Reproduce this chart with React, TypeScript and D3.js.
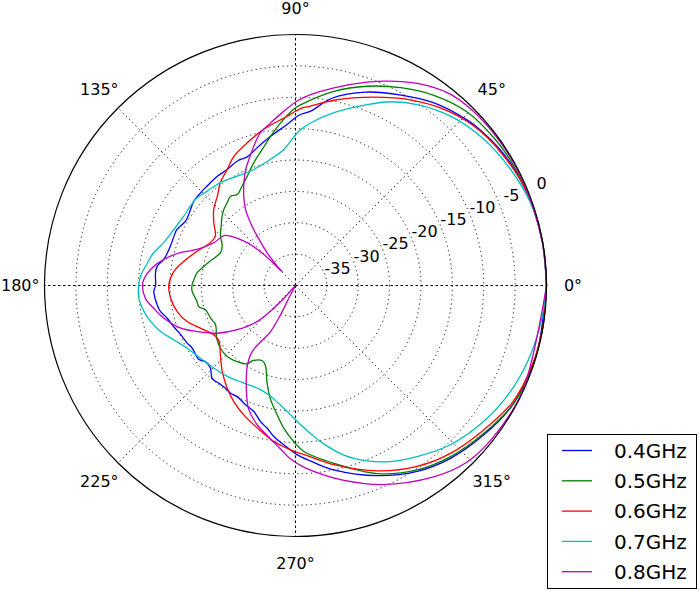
import * as d3 from 'd3';

type Pt = [number, number]; // [angle in degrees, level in dB]

const SERIES = ['0.4GHz', '0.5GHz', '0.6GHz', '0.7GHz', '0.8GHz'];
const COLORS = ['#0000ff', '#008000', '#ff0000', '#00bfbf', '#bf00bf'];
const RADIAL_TICKS = [-35, -30, -25, -20, -15, -10, -5, 0];
const ANGLE_TICKS = [0, 45, 90, 135, 180, 225, 270, 315];

const f04: Pt[] = [
  [0, 0], [10, -0.05], [20, -0.2], [28, -0.5], [34, -0.9], [40, -1.5], [44, -2.0], [53, -3.5],
  [61, -5.3], [70, -7.2], [79, -9.6], [85, -12.1], [89, -12.9], [93, -14.3], [99.5, -15.9],
  [105.5, -17.2], [110.6, -18.1], [115, -18.1], [120.5, -18.55], [125.6, -18.6], [131.6, -18.8],
  [135.7, -18.85], [140.3, -18.95], [144.1, -19.35], [149.7, -19.7], [154.7, -19.1], [158, -19.1],
  [162.5, -19.1], [168.8, -18.6], [172, -17.75], [175, -17.6], [180, -17.7], [182.4, -17.4],
  [188, -17.75], [191, -18.1], [194.3, -18.9], [198.6, -19.5], [203.2, -20.1], [208, -20.45],
  [211.3, -20.75], [217.5, -20.6], [220.2, -21.2], [224.2, -21.1], [228.1, -20.1], [231.9, -20.2],
  [235.7, -20.2], [238.9, -19.95], [242.3, -20.0], [247.3, -19.4], [251.7, -18.85], [255.6, -17.6],
  [258.8, -16.8], [261.8, -15.7], [265.8, -14.55], [270.6, -13.0], [275, -11.9], [281.7, -10.0],
  [293.3, -7.0], [303.2, -4.6], [311.9, -3.0], [321.6, -1.7], [330.3, -0.6], [337.5, -0.2],
  [345, -0.05], [360, 0],
];

const f05: Pt[] = [
  [0, 0], [10, -0.05], [20, -0.15], [30, -0.35], [36, -0.55], [45.2, -1.1], [53.8, -2.5],
  [62, -4.3], [70.2, -6.25], [78.8, -8.45], [88.4, -11.2], [90.6, -11.9], [95.3, -14.0],
  [99.5, -15.9], [103.8, -17.7], [108.8, -19.35], [113.8, -20.95], [118.2, -22.0], [122.6, -22.8],
  [126, -22.4], [129.6, -22.9], [133.3, -23.35], [136.6, -23.9], [141.4, -24.85], [146.7, -25.7],
  [151.8, -26.75], [156.4, -26.95], [162.7, -26.1], [168.1, -25.1], [172.6, -24.2], [176.6, -23.8],
  [180, -23.5], [183.3, -23.5], [189.2, -24.1], [192.3, -24.2], [195.1, -25.15], [201, -25.5],
  [206.2, -25.8], [213.7, -24.9], [219.9, -24.4], [226.1, -24.3], [232.5, -24.7], [238.1, -25.3],
  [240.7, -26.3], [245.9, -26.9], [249.3, -26.4], [253.6, -23.9], [257.5, -21.5], [261.9, -19.2],
  [265.3, -17.2], [269.4, -15.1], [272.9, -13.5], [282.2, -11.0], [293.5, -7.3], [303.4, -4.8],
  [312.2, -3.2], [321.9, -1.85], [331.3, -0.5], [340, -0.15], [350, -0.05], [360, 0],
];

const f06: Pt[] = [
  [0, 0], [10, -0.05], [22, -0.25], [33, -1.0], [42, -1.9], [50, -3.3], [58, -5.15], [67.4, -7.5],
  [78.3, -9.85], [85.2, -11.3], [88.4, -11.8], [92.8, -13.0], [101.5, -14.6], [108.7, -16.0],
  [115.5, -17.2], [120.5, -18.55], [126.1, -19.7], [131.2, -21.1], [137.1, -22.2], [142.5, -23.6],
  [148.4, -25.0], [153.3, -24.8], [160.8, -23.4], [167.7, -21.8], [173.3, -20.5], [180, -19.8],
  [185.8, -20.0], [192.4, -20.7], [198.4, -21.8], [204.2, -23.4], [211.1, -24.8], [216.1, -24.9],
  [222.7, -23.7], [229.6, -22.0], [236.4, -20.35], [242, -19.05], [248.2, -17.8], [255, -16.5],
  [262.1, -14.9], [268.3, -13.8], [275, -12.6], [282.1, -10.8], [293.8, -7.7], [303.9, -5.25],
  [312.7, -3.6], [322.5, -2.2], [332, -0.7], [341.6, -0.2], [350, -0.05], [360, 0],
];

const f07: Pt[] = [
  [0, 0], [10, -0.05], [19.4, -0.3], [28.4, -1.05], [37.8, -2.0], [47.5, -3.4], [56.1, -5.25],
  [62.7, -7.05], [68.4, -9.0], [77.5, -11.8], [84.7, -14.0], [88.5, -15.3], [91, -16.5],
  [94.9, -18.25], [101.2, -19.5], [109.8, -20.35], [118.1, -20.25], [126.1, -19.7], [133.1, -19.4],
  [138.3, -19.0], [142.9, -19.0], [148.2, -19.05], [155.3, -18.65], [162, -17.9], [167, -16.8],
  [172.7, -15.9], [176.6, -15.25], [180, -15.0], [184.6, -14.95], [189.7, -15.5], [193.9, -16.2],
  [198.8, -17.3], [204, -18.75], [210.1, -20.05], [217.4, -20.9], [225.3, -21.5], [233.1, -21.9],
  [242.1, -22.4], [251.4, -22.5], [257.3, -21.9], [262.8, -20.8], [267.8, -19.4], [272.1, -17.8],
  [275.8, -16.3], [279.1, -14.8], [285.9, -11.9], [292.2, -9.8], [298.4, -8.1], [305.4, -6.55],
  [314.2, -4.6], [324.2, -3.0], [333.8, -1.8], [343.6, -0.95], [353.2, -0.35], [360, 0],
];

const f08: Pt[] = [
  [0, 0], [10, -0.05], [25, -0.1], [35, -0.15], [45, -0.35], [51.2, -0.8], [58.9, -2.4],
  [65.8, -4.3], [70.6, -5.65], [79, -7.9], [85.5, -9.5], [89.5, -10.6], [93.8, -12.15],
  [98.7, -13.8], [102.9, -15.0], [106.6, -16.8], [110.3, -18.6], [113.3, -19.9], [116.7, -21.7],
  [120.1, -23.55], [123.3, -25.5], [125.7, -27.7], [127.8, -30.05], [130.9, -33.1], [133.3, -35.8],
  [134.2, -37.0], [135.6, -32.9], [138.5, -29.7], [142.8, -27.0], [145.1, -26.1], [152.4, -25.3],
  [159.9, -23.3], [164.1, -20.9], [168.8, -18.6], [173.7, -16.75], [177.7, -15.8], [180, -15.6],
  [185, -16.0], [189.1, -17.1], [194, -18.4], [200.4, -20.5], [205.1, -22.7], [211.4, -25.4],
  [217.2, -28.35], [223.2, -31.6], [226.3, -35.0], [228.2, -38.0], [235, -40], [241.9, -38.2],
  [242.9, -34.6], [241.5, -31.55], [238.1, -29.35], [236.8, -27.3], [239, -25.1], [243, -22.7],
  [246.1, -20.8], [249.1, -19.0], [253.6, -17.3], [259.2, -15.7], [264.6, -13.9], [268.2, -12.4],
  [272, -11.2], [278.4, -9.5], [284, -8.0], [293.5, -5.4], [305.8, -2.4], [314, -0.8],
  [322, -0.3], [335, -0.1], [360, 0],
];

const DATA: Pt[][] = [f04, f05, f06, f07, f08];

const W = 700;
const H = 591;
const CX = 295.5;
const CY = 285.5;
const R = 251;
const LABEL_R = 277.5;
const ANGLE_FONT = 16;
const FONT = '"DejaVu Sans", sans-serif';

export default function App() {
  const r = d3.scaleLinear().domain([-40, 0]).range([0, R]).clamp(true);
  const toRad = (deg: number) => (deg * Math.PI) / 180;

  const line = d3
    .lineRadial<Pt>()
    .angle((d) => toRad(90 - d[0]))
    .radius((d) => r(d[1]))
    .curve(d3.curveCatmullRom.alpha(0.5));

  const rings = RADIAL_TICKS.filter((v) => v < 0);

  return (
    <svg
      width={W}
      height={H}
      style={{ position: 'absolute', left: 0, top: 0, background: '#fff' }}
      fontFamily={FONT}
    >
      <rect width={W} height={H} fill="#fff" />
      <g transform={`translate(${CX},${CY})`}>
        {/* rings */}
        {rings.map((v) => (
          <circle
            key={v}
            r={r(v)}
            fill="none"
            stroke="#000"
            strokeWidth={0.9}
            strokeDasharray="1.2,3.3"
          />
        ))}
        {/* spokes */}
        {ANGLE_TICKS.map((a) => {
          const x = R * Math.cos(toRad(a));
          const y = -R * Math.sin(toRad(a));
          const axis = a % 90 === 0;
          return (
            <line
              key={a}
              x1={0}
              y1={0}
              x2={x}
              y2={y}
              stroke="#000"
              strokeWidth={axis ? 1 : 0.9}
              strokeDasharray={axis ? '2.5,2.5' : '1.2,3.3'}
            />
          );
        })}
        {/* curves */}
        {DATA.map((d, i) => (
          <path
            key={SERIES[i]}
            d={line(d) ?? ''}
            fill="none"
            stroke={COLORS[i]}
            strokeWidth={1.3}
            strokeLinejoin="round"
          />
        ))}
        <circle r={R} fill="none" stroke="#000" strokeWidth={1.2} />
        {/* radial labels */}
        {RADIAL_TICKS.map((v) => {
          const rr = r(v);
          const nudge = v === 0 ? 9 : v === -5 ? 5 : 0;
          return (
            <text
              key={v}
              x={rr * Math.cos(toRad(22.5)) + nudge}
              y={-rr * Math.sin(toRad(22.5))}
              fontSize={16}
              fill="#000"
            >
              {String(v)}
            </text>
          );
        })}
        {/* angle labels, kept inside the page */}
        {ANGLE_TICKS.map((a) => {
          const half = (String(a).length * 0.636 + 0.5) * ANGLE_FONT * 0.5;
          let x = LABEL_R * Math.cos(toRad(a));
          x = Math.max(x, -CX + half + 1);
          x = Math.min(x, W - CX - half - 1);
          return (
            <text
              key={a}
              x={x}
              y={-LABEL_R * Math.sin(toRad(a))}
              dy="0.35em"
              textAnchor="middle"
              fontSize={ANGLE_FONT}
              fill="#000"
            >
              {`${a}°`}
            </text>
          );
        })}
      </g>
      {/* legend */}
      <g>
        <rect x={547.5} y={434.5} width={149} height={154} fill="#fff" stroke="#000" strokeWidth={1} />
        {SERIES.map((s, i) => {
          const y = 450.5 + i * 30.3;
          return (
            <g key={s}>
              <line x1={562} x2={592} y1={y} y2={y} stroke={COLORS[i]} strokeWidth={1.3} />
              <text x={614} y={y} dy="0.36em" fontSize={20} fill="#000">
                {s}
              </text>
            </g>
          );
        })}
      </g>
    </svg>
  );
}
